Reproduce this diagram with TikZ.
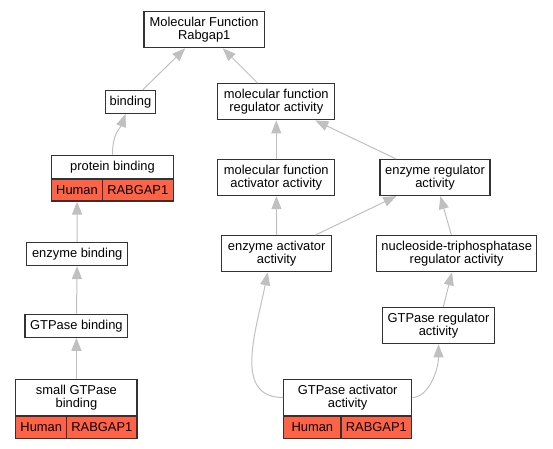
\documentclass[tikz,border=0pt]{standalone}
\usepackage{fontspec}
\setmainfont{Liberation Sans}
\usetikzlibrary{arrows.meta}
\definecolor{genered}{RGB}{255,99,71}
\definecolor{edgegray}{RGB}{192,192,192}
\tikzset{
    term/.style={draw=black!80, line width=1.2pt, fill=white, align=center, inner sep=2pt,
        font=\fontsize{12.9}{13.2}\selectfont, minimum height=23pt},
    term2/.style={term, minimum height=36pt},
    gene/.style={term, fill=genered, minimum height=21.5pt},
    isa/.style={draw=edgegray, line width=1pt, -{Triangle[length=13pt, width=10pt]}}
}
\begin{document}
\begin{tikzpicture}[x=1pt, y=-1pt]

    \useasboundingbox (0,0) rectangle (553,448);

    % terms
    \node[term2, minimum width=120.3pt] (mf) at (204.2,29.7) {Molecular Function\\Rabgap1};
    \node[term, minimum width=50.4pt] (bind) at (130.5,101.8) {binding};
    \node[term2, minimum width=117pt] (mfra) at (276.3,101.8) {molecular function\\regulator activity};
    \node[term, minimum width=121.6pt] (pb) at (112.5,166.8) {protein binding};
    \node[term2, minimum width=117pt] (mfaa) at (276.3,177.5) {molecular function\\activator activity};
    \node[term2, minimum width=110pt] (era) at (435,177.5) {enzyme regulator\\activity};
    \node[term, minimum width=101pt] (eb) at (77.2,254) {enzyme binding};
    \node[term2, minimum width=110pt] (eaa) at (276.7,253.7) {enzyme activator\\activity};
    \node[term2, minimum width=160pt] (ntra) at (456.7,253.7) {nucleoside-triphosphatase\\regulator activity};
    \node[term, minimum width=102.7pt] (gb) at (76.4,325.7) {GTPase binding};
    \node[term2, minimum width=112.4pt] (gra) at (438.5,325.7) {GTPase regulator\\activity};
    \node[term2, minimum width=121.3pt] (sgb) at (76.4,397.5) {small GTPase\\binding};
    \node[term2, minimum width=128pt] (gaa) at (347.7,397.5) {GTPase activator\\activity};

    % annotations
    \node[gene, anchor=north west, minimum width=50.6pt] (pbH) at (pb.south west) {Human};
    \node[gene, anchor=north east, minimum width=71pt] (pbG) at (pb.south east) {RABGAP1};
    \node[gene, anchor=north west, minimum width=51pt] (sgbH) at (sgb.south west) {Human};
    \node[gene, anchor=north east, minimum width=70.3pt] (sgbG) at (sgb.south east) {RABGAP1};
    \node[gene, anchor=north west, minimum width=57.3pt] (gaaH) at (gaa.south west) {Human};
    \node[gene, anchor=north east, minimum width=70.7pt] (gaaG) at (gaa.south east) {RABGAP1};

    % is-a edges
    \draw[isa] (bind) -- (mf);
    \draw[isa] (mfra) -- (mf);
    \draw[isa] (pb.north) .. controls +(0,-22) and +(-5,14) .. ([xshift=-5pt]bind.south);
    \draw[isa] (eb.north) -- (pbH.south);
    \draw[isa] (gb) -- (eb);
    \draw[isa] (sgb) -- (gb);
    \draw[isa] (mfaa) -- (mfra);
    \draw[isa] (era) -- (mfra);
    \draw[isa] (eaa) -- (mfaa);
    \draw[isa] (eaa) -- (era);
    \draw[isa] (ntra) -- (era);
    \draw[isa] (gra) -- (ntra);
    \draw[isa] (gaa.west) .. controls +(-50,0) and +(-12,60) .. ([xshift=-9pt]eaa.south);
    \draw[isa] (gaa.east) .. controls +(16,0) and +(0,26) .. (gra.south);

\end{tikzpicture}
\end{document}
